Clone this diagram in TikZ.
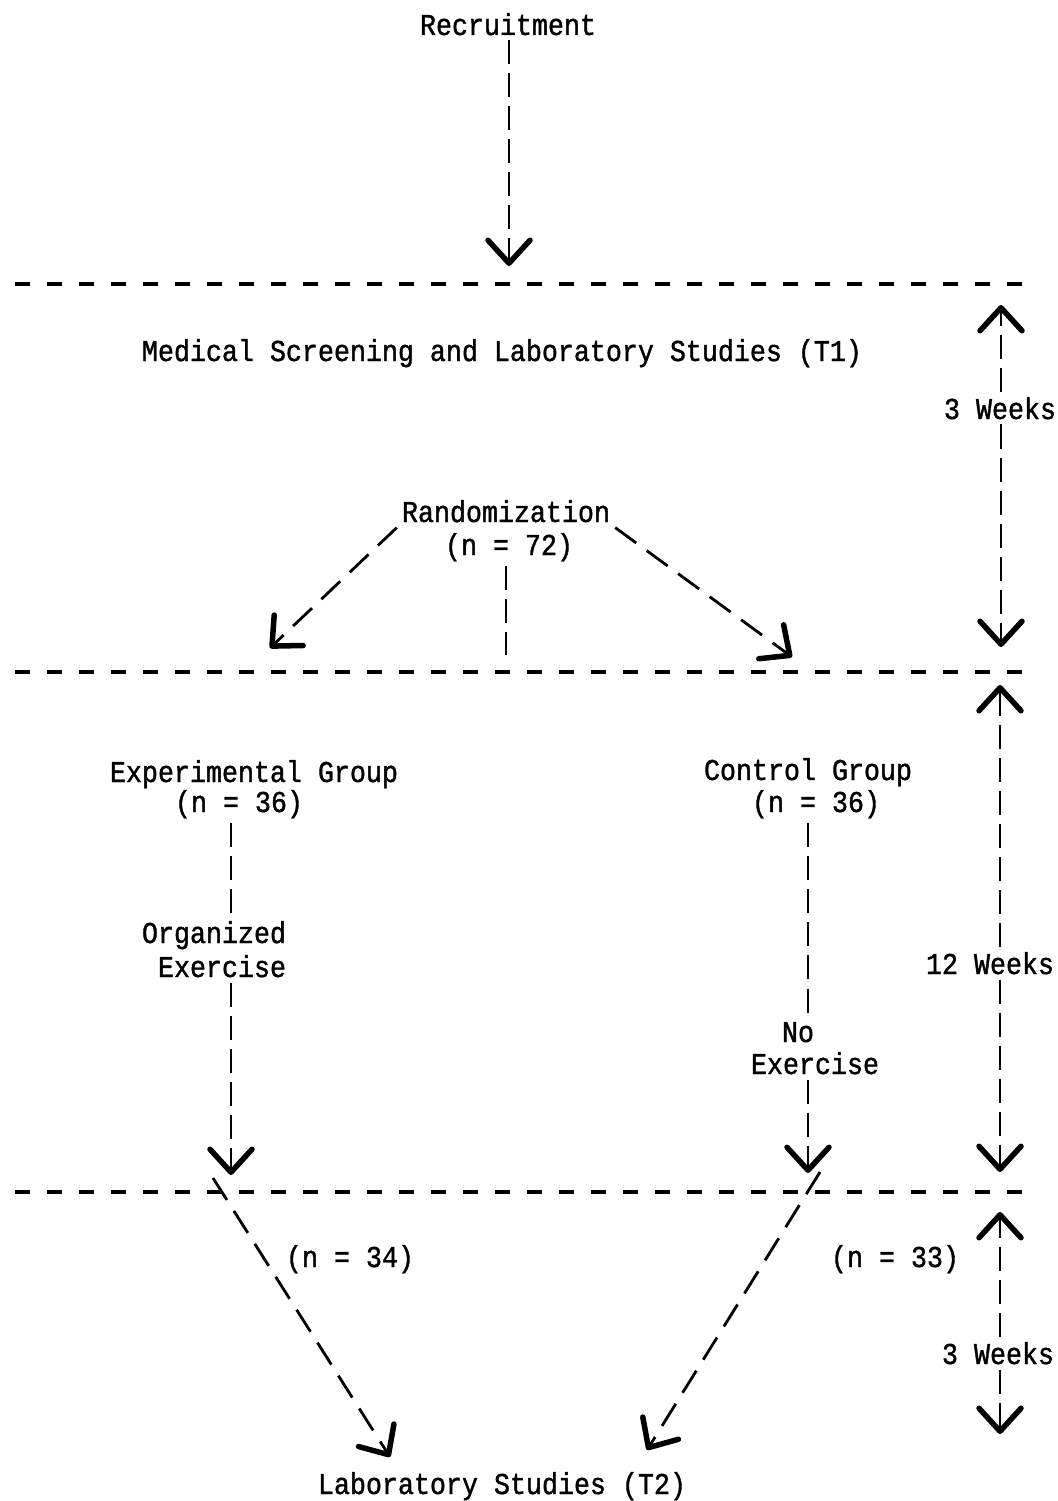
\documentclass[tikz,border=0pt]{standalone}
\usepackage{fontspec}
\newfontfamily\tw[FakeStretch=0.88,FakeBold=1.2,AutoFakeBold=1.2]{Liberation Mono}
\usetikzlibrary{arrows.meta}
\tikzset{
 txt/.style={font=\tw\fontsize{30.3}{34}\selectfont, inner sep=5pt, anchor=base},
 sep/.style={line width=4pt, dash pattern=on 15pt off 17pt},
 conn/.style={line width=2.8pt, dash pattern=on 24pt off 9pt},
 diag/.style={line width=2.8pt, dash pattern=on 26pt off 13pt},
 vee/.tip={Straight Barb[length=23pt,width=42pt,line width=5.5pt,round]},
}
\begin{document}
\begin{tikzpicture}[x=1pt,y=-1pt]
\useasboundingbox[fill=white] (0,0) rectangle (1057,1501);

% separators
\coordinate (L1) at (15,284);  \coordinate (R1) at (1030,284);
\coordinate (L2) at (15,672);  \coordinate (R2) at (1030,672);
\coordinate (L3) at (15,1192); \coordinate (R3) at (1030,1192);
\draw[sep] (L1) -- (R1);
\draw[sep] (L2) -- (R2);
\draw[sep] (L3) -- (R3);

% recruitment
\node[txt] (rec) at (508,35) {Recruitment};
\coordinate (recTip) at (509,266);
\draw[conn,-vee] (rec.south -| recTip) -- (recTip);

% T1
\node[txt] (med) at (502,361) {Medical Screening and Laboratory Studies (T1)};

% 3 weeks (top)
\node[txt] (wk1) at (1000,419) {3 Weeks};
\coordinate (wk1up) at (1001,305);
\coordinate (wk1dn) at (1001,647);
\draw[conn,-vee] (wk1.north -| wk1up) -- (wk1up);
\draw[conn,-vee] (wk1.south -| wk1dn) -- (wk1dn);

% randomization
\node[txt] (rand) at (506,522) {Randomization};
\node[txt] (n72) at (509,555) {(n = 72)};
\coordinate (rl) at (270,648);
\coordinate (rr) at (792,657);
\coordinate (rm) at (506,655);
\draw[diag,-vee] (rand.south west) -- (rl);
\draw[diag,-vee] (rand.south east) -- (rr);
\draw[conn] (n72.south -| rm) -- (rm);

% experimental group
\node[txt] (exg) at (254,782) {Experimental Group};
\node[txt] (exn) at (239,812) {(n = 36)};
\node[txt] (org) at (214,943) {Organized};
\node[txt] (exe) at (222,977) {Exercise};
\coordinate (exTip) at (231,1175);
\draw[conn] (exn.south -| exTip) -- (org.north -| exTip);
\draw[conn,-vee] (exe.south -| exTip) -- (exTip);

% control group
\node[txt] (cog) at (808,780) {Control Group};
\node[txt] (con) at (816,812) {(n = 36)};
\node[txt] (no) at (798,1042) {No};
\node[txt] (noe) at (815,1074) {Exercise};
\coordinate (coTip) at (808,1173);
\draw[conn] (con.south -| coTip) -- (no.north -| coTip);
\draw[conn,-vee] (noe.south -| coTip) -- (coTip);

% 12 weeks
\node[txt] (wk2) at (990,974) {12 Weeks};
\coordinate (wk2up) at (1000,685);
\coordinate (wk2dn) at (1000,1172);
\draw[conn,-vee] (wk2.north -| wk2up) -- (wk2up);
\draw[conn,-vee] (wk2.south -| wk2dn) -- (wk2dn);

% bottom diagonals
\node[txt] (n34) at (350,1267) {(n = 34)};
\node[txt] (n33) at (895,1267) {(n = 33)};
\node[txt] (lab) at (502,1494) {Laboratory Studies (T2)};
\coordinate (bls) at (213,1178);
\coordinate (blt) at (390,1457);
\coordinate (brs) at (820,1172);
\coordinate (brt) at (647,1450);
\draw[diag,-vee] (bls) -- (blt);
\draw[diag,-vee] (brs) -- (brt);

% 3 weeks (bottom)
\node[txt] (wk3) at (998,1364) {3 Weeks};
\coordinate (wk3up) at (1000,1212);
\coordinate (wk3dn) at (1000,1434);
\draw[conn,-vee] (wk3.north -| wk3up) -- (wk3up);
\draw[conn,-vee] (wk3.south -| wk3dn) -- (wk3dn);
\end{tikzpicture}
\end{document}
